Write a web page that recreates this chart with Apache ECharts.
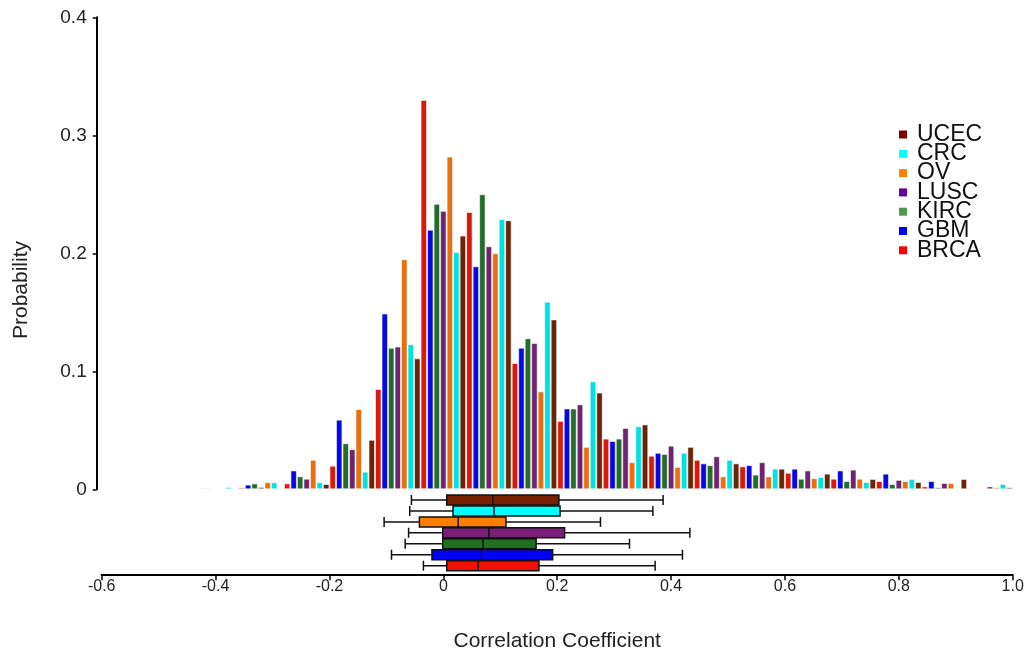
<!DOCTYPE html>
<html>
<head>
<meta charset="utf-8">
<title>Correlation Coefficient histogram</title>
<script src="https://cdn.jsdelivr.net/npm/echarts@6/dist/echarts.min.js"></script>
<style>
  html, body { margin: 0; padding: 0; background: #fff; }
  #chart { width: 1027px; height: 659px; }
</style>
</head>
<body>
<div id="chart"></div>
<script>
//bin left edges (width 0.08)
var bins = ['-0.60','-0.52','-0.44','-0.36','-0.28','-0.20','-0.12','-0.04','0.04','0.12',
            '0.20','0.28','0.36','0.44','0.52','0.60','0.68','0.76','0.84','0.92'];

//probability per bin
var brca = [0, 0, 0, 0.0015, 0.005, 0.020, 0.085, 0.330, 0.235, 0.107, 0.058, 0.043, 0.0285, 0.025, 0.0195, 0.014, 0.009, 0.007, 0.0025, 0.001];
var gbm  = [0, 0, 0.001, 0.004, 0.016, 0.059, 0.149, 0.220, 0.189, 0.120, 0.0685, 0.041, 0.031, 0.022, 0.0205, 0.0175, 0.016, 0.0133, 0.007, 0];
var kirc = [0, 0, 0.001, 0.005, 0.011, 0.039, 0.120, 0.242, 0.250, 0.128, 0.0685, 0.043, 0.030, 0.0205, 0.0125, 0.009, 0.007, 0.0045, 0.0017, 0];
var lusc = [0, 0, 0, 0.002, 0.009, 0.034, 0.121, 0.236, 0.206, 0.124, 0.072, 0.052, 0.037, 0.028, 0.023, 0.016, 0.0167, 0.008, 0.0054, 0.0025];
var ov   = [0, 0, 0, 0.006, 0.025, 0.068, 0.195, 0.282, 0.200, 0.083, 0.036, 0.023, 0.019, 0.011, 0.011, 0.0095, 0.009, 0.007, 0.0054, 0.0017];
var crc  = [0, 0, 0.002, 0.006, 0.006, 0.015, 0.123, 0.201, 0.229, 0.159, 0.0915, 0.0535, 0.031, 0.025, 0.0175, 0.0105, 0.0062, 0.0088, 0, 0.0045];
var ucec = [0, 0, 0, 0, 0.0045, 0.042, 0.111, 0.215, 0.228, 0.144, 0.082, 0.055, 0.036, 0.022, 0.0175, 0.0133, 0.0088, 0.0062, 0.0088, 0.0017];

//boxplot stats [min, q1, median, q3, max]
var brcaBox = [-0.035, 0.006, 0.061, 0.168, 0.372];
var gbmBox  = [-0.091, -0.020, 0.067, 0.192, 0.420];
var kircBox = [-0.067, -0.001, 0.070, 0.163, 0.327];
var luscBox = [-0.061, -0.001, 0.080, 0.213, 0.433];
var ovBox   = [-0.104, -0.042, 0.026, 0.110, 0.276];
var crcBox  = [-0.059, 0.017, 0.089, 0.205, 0.368];
var ucecBox = [-0.056, 0.006, 0.087, 0.203, 0.386];

var xTicks = ['-0.6', '-0.4', '-0.2', '0', '0.2', '0.4', '0.6', '0.8', '1.0'];
var yTicks = ['0', '0.1', '0.2', '0.3', '0.4'];

var names = ['BRCA', 'GBM', 'KIRC', 'LUSC', 'OV', 'CRC', 'UCEC'];
var barColors = ['#d81a0a', '#0808e0', '#246c2a', '#6e2470', '#e87010', '#00e2e2', '#6c2406'];
var boxColors = ['#f21000', '#0000ff', '#217021', '#7a1f78', '#ff7f00', '#00ffff', '#782000'];
var legendColors = ['#ff0000', '#0000ff', '#4a9a4a', '#660099', '#ff8000', '#00ffff', '#800000'];

var font = 'Liberation Sans, Arial, sans-serif';
var chart = echarts.init(document.getElementById('chart'));

var barData = [brca, gbm, kirc, lusc, ov, crc, ucec];
var boxData = [brcaBox, gbmBox, kircBox, luscBox, ovBox, crcBox, ucecBox];

var series = [];
for (var i = 0; i < names.length; i++) {
    series.push({
        name: names[i],
        type: 'bar',
        xAxisIndex: 0,
        yAxisIndex: 0,
        barGap: '0%',
        barCategoryGap: '0%',
        itemStyle: {
            color: barColors[i],
            borderColor: 'rgba(255,255,255,0.6)',
            borderWidth: 1
        },
        data: barData[i]
    });
}

var boxItems = [];
for (var j = 0; j < names.length; j++) {
    boxItems.push({
        value: boxData[j],
        itemStyle: { color: boxColors[j], borderColor: '#111', borderWidth: 1.5 }
    });
}
series.push({
    name: 'box',
    type: 'boxplot',
    xAxisIndex: 1,
    yAxisIndex: 1,
    layout: 'horizontal',
    boxWidth: [10, 10],
    data: boxItems
});

//legend top to bottom is reversed
var legendData = [];
for (var k = names.length - 1; k >= 0; k--) {
    legendData.push({ name: names[k], itemStyle: { color: legendColors[k], borderWidth: 0 } });
}

var option = {
    animation: false,
    textStyle: { fontFamily: font },
    grid: [
        { left: 101.7, right: 14.3, top: 17.3, height: 472 },
        { left: 101.7, right: 14.3, top: 494.5, height: 76.7 }
    ],
    legend: {
        orient: 'vertical',
        left: 899,
        top: 123,
        padding: 0,
        icon: 'rect',
        itemWidth: 8,
        itemHeight: 8,
        itemGap: -3.7,
        selectedMode: false,
        textStyle: { fontFamily: font, fontSize: 23, color: '#111', padding: [0, 0, 0, 5] },
        data: legendData
    },
    xAxis: [
        {
            type: 'category',
            gridIndex: 0,
            data: bins,
            show: false
        },
        {
            type: 'value',
            gridIndex: 1,
            min: -0.6,
            max: 1.0,
            interval: 0.2,
            offset: 4,
            splitLine: { show: false },
            axisLine: { show: true, lineStyle: { color: '#000', width: 2 } },
            axisTick: { show: true, length: 5, lineStyle: { color: '#000', width: 1.5 } },
            axisLabel: {
                margin: 3,
                fontSize: 16,
                color: '#222',
                formatter: function (v) {
                    var idx = Math.round((v + 0.6) / 0.2);
                    return xTicks[idx];
                }
            },
            name: 'Correlation Coefficient',
            nameLocation: 'middle',
            nameGap: 56,
            nameTextStyle: { fontSize: 21, color: '#222', fontFamily: font }
        }
    ],
    yAxis: [
        {
            type: 'value',
            gridIndex: 0,
            min: 0,
            max: 0.4,
            interval: 0.1,
            offset: 5,
            splitLine: { show: false },
            axisLine: { show: true, lineStyle: { color: '#000', width: 2 } },
            axisTick: { show: true, length: 4, lineStyle: { color: '#000', width: 1.5 } },
            axisLabel: {
                margin: 10,
                fontSize: 19,
                color: '#222',
                formatter: function (v) {
                    return yTicks[Math.round(v * 10)];
                }
            }
        },
        {
            type: 'category',
            gridIndex: 1,
            data: names,
            show: false
        }
    ],
    graphic: [
        {
            type: 'text',
            x: 21,
            y: 290,
            rotation: Math.PI / 2,
            style: {
                text: 'Probability',
                font: '21px ' + font,
                fill: '#222',
                align: 'center',
                verticalAlign: 'middle'
            }
        }
    ],
    series: series
};

chart.setOption(option);
</script>
</body>
</html>
